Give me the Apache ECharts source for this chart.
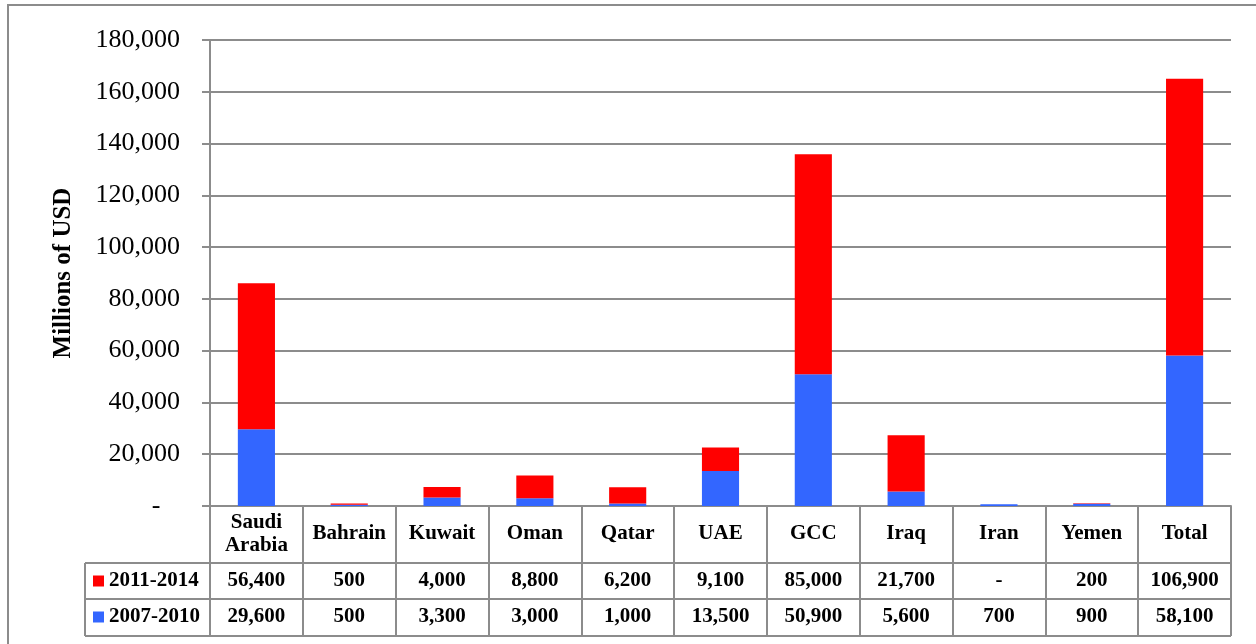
<!DOCTYPE html>
<html>
<head>
<meta charset="utf-8">
<script src="https://cdn.jsdelivr.net/npm/echarts@6/dist/echarts.min.js"></script>
<style>
  html, body { margin: 0; padding: 0; background: #fff; }
  #chart { width: 1256px; height: 644px; }
</style>
</head>
<body>
<div id="chart"></div>
<script>
// Arms transfer agreements by recipient, millions of USD
const categories = ['Saudi\nArabia', 'Bahrain', 'Kuwait', 'Oman', 'Qatar', 'UAE', 'GCC', 'Iraq', 'Iran', 'Yemen', 'Total'];
const period2011to2014 = [56400, 500, 4000, 8800, 6200, 9100, 85000, 21700, 0, 200, 106900];
const period2007to2010 = [29600, 500, 3300, 3000, 1000, 13500, 50900, 5600, 700, 900, 58100];
const seriesNames = ['2011-2014', '2007-2010'];
const yTicks = { min: 0, max: 180000, interval: 20000 };

const FONT = '"Liberation Serif", "Times New Roman", serif';
const GRAY = '#8c8c8c';
const fmt = v => v === 0 ? '-' : v.toLocaleString('en-US');

const chart = echarts.init(document.getElementById('chart'), null, { renderer: 'canvas' });

const gridLeft = 210, gridRight = 25, gridTop = 40, gridBottom = 138;
const W = 1256, H = 644;
const tableLeft = 85, tableRight = W - gridRight;
const axisY = H - gridBottom;
const rowLines = [axisY + 57, axisY + 93, axisY + 130];
const TABLE_FONT = 21;

function valueRowAxis(values, margin) {
  return {
    type: 'category',
    data: categories,
    position: 'bottom',
    axisLine: { show: false },
    axisTick: { show: false },
    axisLabel: {
      interval: 0,
      margin: margin,
      verticalAlign: 'middle',
      fontFamily: FONT,
      fontWeight: 'bold',
      fontSize: TABLE_FONT,
      color: '#000',
      formatter: (v, i) => fmt(values[i])
    }
  };
}

chart.setOption({
  animation: false,
  backgroundColor: '#fff',
  grid: { left: gridLeft, right: gridRight, top: gridTop, bottom: gridBottom },
  legend: {
    orient: 'vertical',
    left: 93,
    top: axisY + 64,
    padding: 0,
    data: seriesNames,
    icon: 'rect',
    itemWidth: 11,
    itemHeight: 11,
    itemGap: 14,
    selectedMode: false,
    textStyle: { fontFamily: FONT, fontWeight: 'bold', fontSize: TABLE_FONT, lineHeight: 22, color: '#000' }
  },
  xAxis: [
    {
      type: 'category',
      data: categories,
      position: 'bottom',
      axisLine: { show: true, lineStyle: { color: GRAY, width: 2 } },
      axisTick: { show: true, interval: 0, length: 130, lineStyle: { color: GRAY, width: 2 } },
      axisLabel: {
        interval: 0,
        margin: 28,
        verticalAlign: 'middle',
        lineHeight: 23,
        fontFamily: FONT,
        fontWeight: 'bold',
        fontSize: TABLE_FONT,
        color: '#000'
      }
    },
    valueRowAxis(period2011to2014, 75),
    valueRowAxis(period2007to2010, 111)
  ],
  yAxis: {
    type: 'value',
    min: yTicks.min,
    max: yTicks.max,
    interval: yTicks.interval,
    name: 'Millions of USD',
    nameLocation: 'middle',
    nameRotate: 90,
    nameGap: 134,
    nameTextStyle: { fontFamily: FONT, fontWeight: 'bold', fontSize: 25, color: '#000' },
    axisLine: { show: true, lineStyle: { color: GRAY, width: 2 } },
    axisTick: { show: true, length: 8, lineStyle: { color: GRAY, width: 2 } },
    splitLine: { show: true, lineStyle: { color: GRAY, width: 2 } },
    axisLabel: {
      margin: 30,
      fontFamily: FONT,
      fontSize: 26,
      color: '#000',
      formatter: v => v === 0 ? '-   ' : fmt(v)
    }
  },
  series: [
    {
      name: '2007-2010',
      type: 'bar',
      stack: 'total',
      barWidth: '40%',
      itemStyle: { color: '#3366FF' },
      data: period2007to2010
    },
    {
      name: '2011-2014',
      type: 'bar',
      stack: 'total',
      barWidth: '40%',
      itemStyle: { color: '#FF0000' },
      data: period2011to2014
    }
  ],
  graphic: [
    { type: 'rect', shape: { x: 8, y: 5, width: 1300, height: 700 }, style: { fill: null, stroke: GRAY, lineWidth: 2 }, silent: true },
    ...rowLines.map(y => ({
      type: 'line',
      shape: { x1: tableLeft, y1: y, x2: tableRight, y2: y },
      style: { stroke: GRAY, lineWidth: 2 },
      silent: true
    })),
    { type: 'line', shape: { x1: tableLeft, y1: rowLines[0], x2: tableLeft, y2: rowLines[2] }, style: { stroke: GRAY, lineWidth: 2 }, silent: true }
  ]
});
</script>
</body>
</html>
